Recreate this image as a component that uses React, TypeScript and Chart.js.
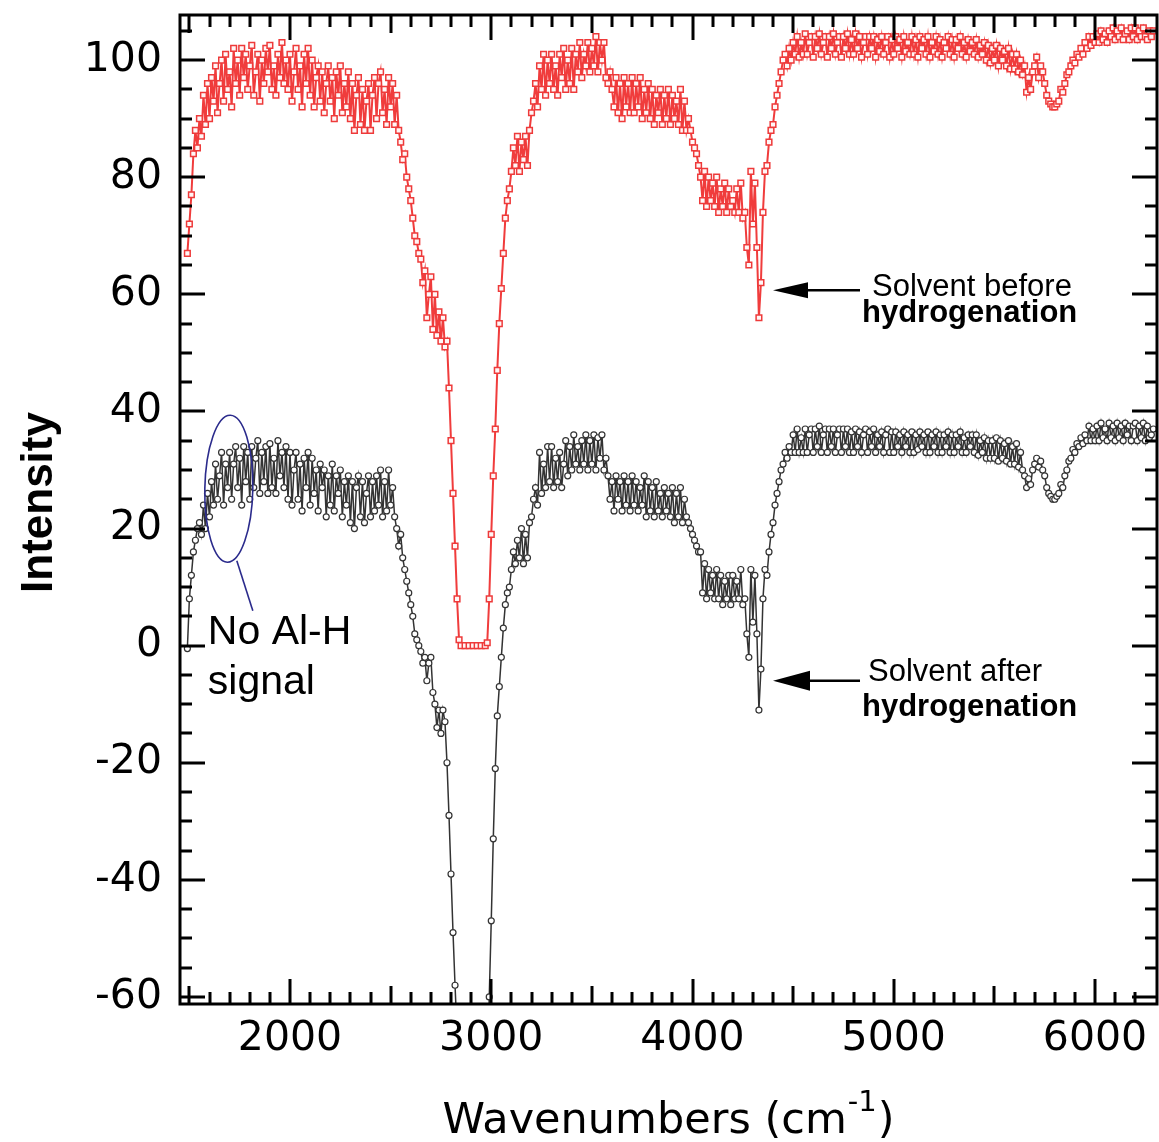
import React, { useEffect, useRef } from "react";
import { Chart, registerables } from "chart.js";

Chart.register(...registerables);

// Wavenumber grid (cm-1), shared by both spectra
const wavenumbers = [
  1490,
  1500, 1510, 1520, 1530, 1540, 1550, 1560, 1570, 1580, 1590,
  1600, 1610, 1620, 1630, 1640, 1650, 1660, 1670, 1680, 1690,
  1700, 1710, 1720, 1730, 1740, 1750, 1760, 1770, 1780, 1790,
  1800, 1810, 1820, 1830, 1840, 1850, 1860, 1870, 1880, 1890,
  1900, 1910, 1920, 1930, 1940, 1950, 1960, 1970, 1980, 1990,
  2000, 2010, 2020, 2030, 2040, 2050, 2060, 2070, 2080, 2090,
  2100, 2110, 2120, 2130, 2140, 2150, 2160, 2170, 2180, 2190,
  2200, 2210, 2220, 2230, 2240, 2250, 2260, 2270, 2280, 2290,
  2300, 2310, 2320, 2330, 2340, 2350, 2360, 2370, 2380, 2390,
  2400, 2410, 2420, 2430, 2440, 2450, 2460, 2470, 2480, 2490,
  2500, 2510, 2520, 2530, 2540, 2550, 2560, 2570, 2580, 2590,
  2600, 2610, 2620, 2630, 2640, 2650, 2660, 2670, 2680, 2690,
  2700, 2710, 2720, 2730, 2740, 2750, 2760, 2770, 2780, 2790,
  2800, 2810, 2820, 2830, 2840, 2850,
  2870, 2890, 2910, 2930, 2950, 2970,
  2980, 2990,
  3000, 3010, 3020, 3030, 3040, 3050, 3060, 3070, 3080, 3090,
  3100, 3110, 3120, 3130, 3140, 3150, 3160, 3170, 3180, 3190,
  3200, 3210, 3220, 3230, 3240, 3250, 3260, 3270, 3280, 3290,
  3300, 3310, 3320, 3330, 3340, 3350, 3360, 3370, 3380, 3390,
  3400, 3410, 3420, 3430, 3440, 3450, 3460, 3470, 3480, 3490,
  3500, 3510, 3520, 3530, 3540, 3550, 3560, 3570, 3580, 3590,
  3600, 3610, 3620, 3630, 3640, 3650, 3660, 3670, 3680, 3690,
  3700, 3710, 3720, 3730, 3740, 3750, 3760, 3770, 3780, 3790,
  3800, 3810, 3820, 3830, 3840, 3850, 3860, 3870, 3880, 3890,
  3900, 3910, 3920, 3930, 3940, 3950, 3960, 3970, 3980, 3990,
  4000, 4010, 4020, 4030, 4040, 4050, 4060, 4070, 4080, 4090,
  4100, 4110, 4120, 4130, 4140, 4150, 4160, 4170, 4180, 4190,
  4200, 4210, 4220, 4230, 4240, 4250, 4260, 4270, 4280, 4290,
  4300, 4310, 4320, 4330, 4340, 4350, 4360, 4370, 4380, 4390,
  4400, 4410, 4420, 4430, 4440, 4450, 4460, 4470, 4480, 4490,
  4500, 4510, 4520, 4530, 4540, 4550, 4560, 4570, 4580, 4590,
  4600, 4610, 4620, 4630, 4640, 4650, 4660, 4670, 4680, 4690,
  4700, 4710, 4720, 4730, 4740, 4750, 4760, 4770, 4780, 4790,
  4800, 4810, 4820, 4830, 4840, 4850, 4860, 4870, 4880, 4890,
  4900, 4910, 4920, 4930, 4940, 4950, 4960, 4970, 4980, 4990,
  5000, 5010, 5020, 5030, 5040, 5050, 5060, 5070, 5080, 5090,
  5100, 5110, 5120, 5130, 5140, 5150, 5160, 5170, 5180, 5190,
  5200, 5210, 5220, 5230, 5240, 5250, 5260, 5270, 5280, 5290,
  5300, 5310, 5320, 5330, 5340, 5350, 5360, 5370, 5380, 5390,
  5400, 5410, 5420, 5430, 5440, 5450, 5460, 5470, 5480, 5490,
  5500, 5510, 5520, 5530, 5540, 5550, 5560, 5570, 5580, 5590,
  5600, 5610, 5620, 5630, 5640, 5650, 5660, 5670, 5680, 5690,
  5700, 5710, 5720, 5730, 5740, 5750, 5760, 5770, 5780, 5790,
  5800, 5810, 5820, 5830, 5840, 5850, 5860, 5870, 5880, 5890,
  5900, 5910, 5920, 5930, 5940, 5950, 5960, 5970, 5980, 5990,
  6000, 6010, 6020, 6030, 6040, 6050, 6060, 6070, 6080, 6090,
  6100, 6110, 6120, 6130, 6140, 6150, 6160, 6170, 6180, 6190,
  6200, 6210, 6220, 6230, 6240, 6250, 6260, 6270, 6280, 6290,
];

// Solvent before hydrogenation (red squares)
const solventBefore = [
  67,
  72, 77, 84, 88, 85, 90, 87, 94, 89, 96,
  90, 97, 93, 99, 91, 96, 100, 93, 101, 95,
  98, 92, 102, 96, 100, 94, 102, 97, 101, 95,
  99, 102.5, 94, 98, 101, 93, 100, 96, 102, 98,
  102.5, 95, 99, 94, 101, 97, 103, 96, 100, 95,
  101, 93, 98, 102, 95, 99, 92, 101, 96, 102,
  94, 100, 92, 97, 99, 93, 98, 91, 96, 99,
  93, 97, 90, 98, 94, 99, 91, 96, 92, 98,
  90, 96, 88, 94, 97, 89, 95, 88, 93, 96,
  88, 94, 97, 90, 96, 98, 91, 95, 89, 97,
  92, 96, 89, 94, 88, 86, 83, 84, 80, 78,
  76, 73, 70, 69, 67, 66, 62, 64, 56, 60,
  63, 54, 60, 53, 57, 52, 56, 51, 52, 44,
  35, 26, 17, 8, 1, 0,
  0, 0, 0, 0, 0, 0,
  0.5, 8,
  19, 29, 37, 47, 55, 61, 67, 73, 76, 78,
  81, 85, 82, 87, 81, 86, 83, 87, 82, 88,
  91, 93, 96, 92, 99, 95, 101, 94, 100, 96,
  101, 95, 99, 94, 101, 97, 102, 95, 100, 96,
  102, 95, 101, 98, 103, 97, 101, 99, 103, 98,
  102, 99, 104, 98, 103, 100, 103, 97, 96, 98,
  95, 92, 97, 91, 96, 90, 97, 92, 96, 91,
  97, 91, 96, 92, 97, 90, 95, 91, 96, 90,
  95, 89, 94, 91, 95, 89, 94, 90, 95, 89,
  94, 90, 93, 89, 95, 88, 93, 88, 90, 88,
  86, 85, 84, 82, 80, 76, 81, 75, 80, 76,
  79, 75, 80, 74, 78, 75, 79, 74, 78, 75,
  76, 74, 78, 74, 79, 73, 74, 68, 65, 81,
  72, 79, 68, 56, 62, 74, 81, 82, 86, 88,
  89, 92, 94, 96, 98, 100, 101, 99, 102, 100,
  103, 101, 104, 100.5, 103, 101, 104.5, 101, 103, 104,
  100.5, 104, 102, 104.5, 101, 103, 104, 100.5, 104, 102,
  104.5, 101, 103, 104, 100.5, 104, 102, 104.5, 101, 103.5,
  101, 104.5, 102, 104, 100.5, 103, 104, 101, 104, 102,
  104, 100.5, 103.5, 101.5, 104, 101, 103, 104, 100.5, 103.5,
  101, 104, 102, 103.5, 100.5, 104, 101.5, 103, 101, 104,
  101, 103.5, 100.5, 104, 102, 103.5, 101, 104, 100.5, 103,
  101.5, 104, 101, 103.5, 100.5, 103, 102, 104, 101, 103.5,
  100.5, 103.5, 102, 104, 101, 103, 100.5, 103.5, 101.5, 103,
  101, 103.5, 100.5, 102.5, 101, 103, 100, 102.5, 99.5, 102,
  100, 102.5, 99, 102, 100, 101.5, 99, 102, 98.5, 101,
  98.5, 101, 98, 100, 97.5, 99, 94.5, 97, 95, 98,
  99, 100.5, 97, 99, 98, 96, 94, 93, 92.5, 92,
  92, 92.5, 93, 95, 94.5, 96, 97.5, 98, 99, 100,
  99.5, 101, 100.5, 102, 101, 103, 102, 104, 102.5, 104,
  103, 104.5, 103, 105, 103.5, 104.5, 103, 105, 104, 105.5,
  103.5, 105, 104, 105.5, 103.5, 104.5, 105, 103.5, 105.5, 104,
  105.5, 103.5, 105, 104, 105.5, 104, 103.5, 105, 104, 105,
];

// Solvent after hydrogenation (black circles)
const solventAfter = [
  -0.5,
  8, 12, 16, 18, 20, 21, 19, 24, 20, 26,
  22, 28, 24, 31, 25, 29, 33, 24, 31, 27,
  33, 25, 31, 34, 27, 32, 24, 34, 28, 33,
  25, 34, 27, 32, 35, 26, 33, 28, 34, 26,
  34.5, 27, 32, 26, 35, 29, 33, 27, 34, 25,
  33, 24, 30, 33, 25, 31, 23, 32, 27, 33,
  24, 32, 26, 30, 23, 31, 27, 30, 22, 29,
  24, 31, 23, 29, 26, 30, 22, 28, 24, 29,
  21, 28, 20, 27, 29, 22, 28, 21, 26, 29,
  22, 28, 23, 29, 24, 30, 22, 28, 23, 30,
  24, 27, 22, 20, 17, 19, 15, 13, 11, 9,
  7, 5, 2, 1, 0, -1, -3, -2, -6, -3,
  -2, -8, -10, -14, -11, -15, -11, -13, -20, -29,
  -39, -49, -58, -66, -74, -80,
  -85, -88, -90, -90, -88, -85,
  -78, -60,
  -47, -33, -21, -12, -7, -2, 3, 7, 9, 10,
  13, 16, 14, 18, 15, 20, 14, 19, 15, 21,
  22, 25, 27, 24, 33, 26, 31, 27, 34, 28,
  34, 27, 32, 28, 33, 27, 31, 35, 29, 34,
  30, 36, 31, 34, 30, 35, 31, 36, 30, 35,
  31, 36, 30, 35.5, 32, 36, 30, 32, 29, 25,
  28, 23, 29, 25, 28, 23, 29, 24, 28, 23,
  29, 24, 28, 23, 27, 24, 29, 22, 28, 23,
  27, 22, 28, 23, 26, 22, 27, 23, 26, 22,
  27, 21, 26, 22, 27, 21, 25, 22, 21, 20,
  19, 18, 17, 16, 16, 9, 14, 8, 13, 9,
  12, 8, 13, 8, 12, 7, 11, 8, 12, 7,
  12, 8, 11, 8, 13, 7, 8, 2, -2, 13,
  4, 12, 2, -11, -4, 8, 13, 12, 16, 19,
  21, 24, 26, 28, 30, 31, 33, 32, 34, 33,
  36, 33, 37, 33, 35.5, 33, 37, 33, 36, 37,
  33, 37, 34, 37.5, 33, 36, 37, 33, 37, 34,
  37, 33, 36, 37, 33, 37, 34, 37, 33, 36.5,
  33, 37, 34, 36.5, 33, 36, 37, 33, 36.5, 34,
  37, 33, 36, 34, 36.5, 33, 36, 37, 33, 36.5,
  33, 36.5, 34, 36, 33, 36.5, 34, 36, 33, 36.5,
  33, 36, 33.5, 36.5, 34, 36, 33, 36.5, 33, 36,
  34, 36.5, 33, 36, 33, 36, 34, 36.5, 33, 36,
  33, 36, 34, 36.5, 33, 35.5, 33, 36, 34, 36,
  33, 36, 32.5, 35, 33, 35.5, 32, 35, 32, 35,
  32, 35.5, 31.5, 35, 32, 34.5, 31.5, 35, 31, 34,
  31, 34.5, 30.5, 33, 30, 29, 27, 28.5, 27.5, 30,
  31, 32, 30.5, 31.5, 30, 29, 27, 26, 25.5, 25,
  25, 25.5, 26, 27.5, 27, 29, 30, 31.5, 32, 33.5,
  33, 34.5, 34, 35.5, 34.5, 36, 35, 37.5, 35, 37,
  35, 37.5, 35, 38, 35.5, 37, 35, 38, 35.5, 37.5,
  35, 38, 35.5, 37.5, 35, 38, 36, 37.5, 35, 37.5,
  38, 35, 37.5, 35.5, 38, 35, 37.5, 35.5, 36, 37,
];

const xTickValues = [2000, 3000, 4000, 5000, 6000];
const yTickValues = [-60, -40, -20, 0, 20, 40, 60, 80, 100];

const xTitle = "Wavenumbers (cm";
const xTitleSup = "-1";
const xTitleEnd = ")";
const yTitle = "Intensity";
const beforeLabel = ["Solvent before", "hydrogenation"];
const afterLabel = ["Solvent after", "hydrogenation"];
const noteLabel = ["No Al-H", "signal"];

// anchor points of annotations, in data units
const beforeArrowTip = { x: 4400, y: 60.7 };
const afterArrowTip = { x: 4400, y: -6 };
const noteEllipse = { x: 1696, y: 26.8 };

const decorPlugin = {
  id: "decor",
  afterDraw(chart: any) {
    const { ctx, chartArea: a } = chart;
    const xs = chart.scales.x;
    const ys = chart.scales.y;
    ctx.save();
    ctx.strokeStyle = "#000";
    ctx.fillStyle = "#000";
    ctx.lineCap = "butt";

    // inward ticks
    ctx.lineWidth = 3;
    ctx.beginPath();
    for (let v = 1500; v <= 6300; v += 100) {
      const px = Math.round(xs.getPixelForValue(v));
      if (px <= a.left + 2 || px >= a.right - 2) continue;
      const len = v % 1000 === 0 ? 25 : v % 500 === 0 ? 18 : 12;
      ctx.moveTo(px, a.top);
      ctx.lineTo(px, a.top + len);
      ctx.moveTo(px, a.bottom);
      ctx.lineTo(px, a.bottom - len);
    }
    for (let v = -60; v <= 105; v += 5) {
      const py = Math.round(ys.getPixelForValue(v));
      if (py <= a.top + 2 || py >= a.bottom - 2) continue;
      const len = v % 20 === 0 ? 25 : 12;
      ctx.moveTo(a.left, py);
      ctx.lineTo(a.left + len, py);
      ctx.moveTo(a.right, py);
      ctx.lineTo(a.right - len, py);
    }
    ctx.stroke();

    // frame
    ctx.lineWidth = 3;
    ctx.strokeRect(a.left, a.top, a.right - a.left, a.bottom - a.top);

    // x title with superscript
    const mainFont = '43px "DejaVu Sans"';
    const supFont = '29px "DejaVu Sans"';
    ctx.textBaseline = "alphabetic";
    ctx.textAlign = "left";
    ctx.font = mainFont;
    const w1 = ctx.measureText(xTitle).width;
    const w3 = ctx.measureText(xTitleEnd).width;
    ctx.font = supFont;
    const w2 = ctx.measureText(xTitleSup).width;
    const cx = (a.left + a.right) / 2;
    const total = w1 + w2 + w3 + 2;
    const sx = cx - total / 2;
    const base = 1133;
    ctx.font = mainFont;
    ctx.fillText(xTitle, sx, base);
    ctx.font = supFont;
    ctx.fillText(xTitleSup, sx + w1 + 1, base - 22);
    ctx.font = mainFont;
    ctx.fillText(xTitleEnd, sx + w1 + w2 + 2, base);

    // y title
    ctx.save();
    ctx.translate(52, (a.top + a.bottom) / 2 - 7);
    ctx.rotate(-Math.PI / 2);
    ctx.textAlign = "center";
    ctx.font = 'bold 44px "Liberation Sans"';
    ctx.fillText(yTitle, 0, 0);
    ctx.restore();

    // arrows + labels
    const drawArrow = (tx: number, ty: number, half: number, headLen: number) => {
      ctx.beginPath();
      ctx.moveTo(tx, ty);
      ctx.lineTo(tx + headLen, ty - half);
      ctx.lineTo(tx + headLen, ty + half);
      ctx.closePath();
      ctx.fill();
      ctx.lineWidth = 2.5;
      ctx.beginPath();
      ctx.moveTo(tx + headLen - 4, ty);
      ctx.lineTo(tx + 87, ty);
      ctx.stroke();
    };

    const bx = xs.getPixelForValue(beforeArrowTip.x);
    const by = ys.getPixelForValue(beforeArrowTip.y);
    drawArrow(bx, by, 8, 35);
    ctx.textAlign = "left";
    ctx.font = '31px "Liberation Sans"';
    ctx.fillText(beforeLabel[0], bx + 99, by + 6);
    ctx.font = 'bold 31px "Liberation Sans"';
    ctx.fillText(beforeLabel[1], bx + 89, by + 32);

    const ax = xs.getPixelForValue(afterArrowTip.x);
    const ay = ys.getPixelForValue(afterArrowTip.y);
    drawArrow(ax, ay, 10, 37);
    ctx.font = '31px "Liberation Sans"';
    ctx.fillText(afterLabel[0], ax + 95, ay);
    ctx.font = 'bold 31px "Liberation Sans"';
    ctx.fillText(afterLabel[1], ax + 89, ay + 35);

    // ellipse note
    const ex = xs.getPixelForValue(noteEllipse.x);
    const ey = ys.getPixelForValue(noteEllipse.y);
    ctx.strokeStyle = "#2b2b8c";
    ctx.lineWidth = 1.6;
    ctx.beginPath();
    ctx.ellipse(ex, ey, 24, 73.5, 0.02, 0, Math.PI * 2);
    ctx.stroke();
    ctx.beginPath();
    ctx.moveTo(ex + 8, ey + 72);
    ctx.lineTo(ex + 24, ey + 122);
    ctx.stroke();
    ctx.fillStyle = "#000";
    ctx.font = '41px "Liberation Sans"';
    ctx.fillText(noteLabel[0], ex - 21, ey + 155);
    ctx.fillText(noteLabel[1], ex - 21, ey + 205);

    ctx.restore();
  },
};

export default function App() {
  const ref = useRef<HTMLCanvasElement>(null);

  useEffect(() => {
    if (!ref.current) return;
    const before = wavenumbers.map((w, i) => ({ x: w, y: solventBefore[i] }));
    const after = wavenumbers.map((w, i) => ({ x: w, y: solventAfter[i] }));
    const tickFont = { family: "DejaVu Sans", size: 41 };
    const chart = new Chart(ref.current, {
      type: "line",
      data: {
        datasets: [
          {
            label: "Solvent before hydrogenation",
            data: before,
            borderColor: "#f03c3c",
            borderWidth: 2,
            pointStyle: "rect",
            pointRadius: 4,
            pointBorderWidth: 1.5,
            pointBorderColor: "#ee3a3a",
            pointBackgroundColor: "#fff6f6",
            tension: 0,
            clip: 0,
          },
          {
            label: "Solvent after hydrogenation",
            data: after,
            borderColor: "#333333",
            borderWidth: 1.5,
            pointStyle: "circle",
            pointRadius: 3,
            pointBorderWidth: 1.2,
            pointBorderColor: "#333333",
            pointBackgroundColor: "#ffffff",
            tension: 0,
            clip: 0,
          },
        ],
      },
      options: {
        animation: false,
        responsive: false,
        devicePixelRatio: 1,
        layout: { autoPadding: false, padding: { left: 0, top: 15, right: 2, bottom: 0 } },
        plugins: {
          legend: { display: false },
          tooltip: { enabled: false },
          title: { display: false },
        },
        scales: {
          x: {
            type: "linear",
            min: 1453.4,
            max: 6308,
            grid: { display: false, drawTicks: false },
            border: { display: false },
            afterBuildTicks: (s: any) => {
              s.ticks = xTickValues.map((v) => ({ value: v }));
            },
            afterFit: (s: any) => {
              s.height = 138;
              s.paddingLeft = 0;
              s.paddingRight = 0;
              s.paddingTop = 0;
              s.paddingBottom = 0;
            },
            ticks: {
              font: tickFont,
              color: "#000",
              padding: 11,
              maxRotation: 0,
              autoSkip: false,
              callback: (v: any) => String(v),
            },
          },
          y: {
            type: "linear",
            min: -61.2,
            max: 107.7,
            grid: { display: false, drawTicks: false },
            border: { display: false },
            afterBuildTicks: (s: any) => {
              s.ticks = yTickValues.map((v) => ({ value: v }));
            },
            afterFit: (s: any) => {
              s.width = 180;
              s.paddingLeft = 0;
              s.paddingRight = 0;
              s.paddingTop = 0;
              s.paddingBottom = 0;
            },
            ticks: {
              font: tickFont,
              color: "#000",
              padding: 18,
              autoSkip: false,
              callback: (v: any) => String(v),
            },
          },
        },
      },
      plugins: [decorPlugin],
    } as any);
    return () => chart.destroy();
  }, []);

  return (
    <div
      style={{
        position: "fixed",
        left: 0,
        top: 0,
        width: 1159,
        height: 1142,
        background: "#ffffff",
      }}
    >
      <canvas ref={ref} width={1159} height={1142} style={{ display: "block" }} />
    </div>
  );
}
